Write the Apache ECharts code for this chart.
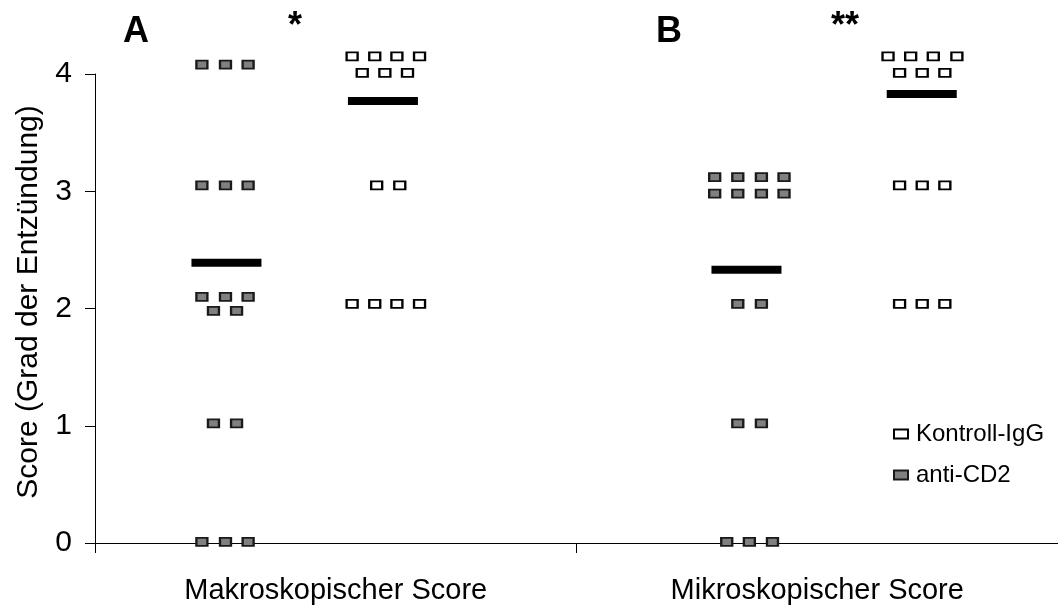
<!DOCTYPE html>
<html>
<head>
<meta charset="utf-8">
<script src="https://cdn.jsdelivr.net/npm/echarts@6/dist/echarts.min.js"></script>
<style>
  html, body { margin: 0; padding: 0; background: #fff; }
  #chart { width: 1058px; height: 605px; }
</style>
</head>
<body>
<div id="chart"></div>
<script>
// Category labels of the two scoring schemes
const categories = ['Makroskopischer Score', 'Mikroskopischer Score'];
const yTicks = [0, 1, 2, 3, 4];
const yTitle = 'Score (Grad der Entzündung)';

// Individual animals: [position on the group axis (0-1 = first group, 1-2 = second), score]
const antiCD2 = [
  [0.222, 4.08], [0.271, 4.08], [0.318, 4.08],
  [0.222, 3.05], [0.271, 3.05], [0.318, 3.05],
  [0.222, 2.10], [0.271, 2.10], [0.318, 2.10],
  [0.246, 1.98], [0.294, 1.98],
  [0.246, 1.02], [0.294, 1.02],
  [0.222, 0.01], [0.271, 0.01], [0.318, 0.01],
  [1.287, 3.12], [1.335, 3.12], [1.384, 3.12], [1.431, 3.12],
  [1.287, 2.98], [1.335, 2.98], [1.384, 2.98], [1.431, 2.98],
  [1.335, 2.04], [1.384, 2.04],
  [1.335, 1.02], [1.384, 1.02],
  [1.312, 0.01], [1.359, 0.01], [1.407, 0.01]
];

const kontrollIgG = [
  [0.534, 4.15], [0.581, 4.15], [0.627, 4.15], [0.674, 4.15],
  [0.555, 4.01], [0.602, 4.01], [0.649, 4.01],
  [0.585, 3.05], [0.633, 3.05],
  [0.534, 2.04], [0.581, 2.04], [0.627, 2.04], [0.674, 2.04],
  [1.647, 4.15], [1.694, 4.15], [1.741, 4.15], [1.790, 4.15],
  [1.671, 4.01], [1.718, 4.01], [1.765, 4.01],
  [1.671, 3.05], [1.718, 3.05], [1.765, 3.05],
  [1.671, 2.04], [1.718, 2.04], [1.765, 2.04]
];

// Group means
const meanAntiCD2 = [[0.273, 2.39], [1.353, 2.33]];
const meanKontroll = [[0.598, 3.77], [1.717, 3.83]];

// Panel letters and significance marks
const panelLabels = ['A', 'B'];
const significance = ['*', '**'];

const FONT = '"Liberation Sans", Arial, sans-serif';

const chart = echarts.init(document.getElementById('chart'), null, { renderer: 'canvas' });

chart.setOption({
  animation: false,
  backgroundColor: '#ffffff',
  textStyle: { fontFamily: FONT, color: '#000' },
  grid: { left: 95, top: 74, width: 974, height: 469, containLabel: false },
  legend: {
    data: ['Kontroll-IgG', 'anti-CD2'],
    orient: 'vertical',
    left: 888,
    top: 417,
    itemWidth: 14,
    itemHeight: 9,
    itemGap: 17,
    textStyle: { fontFamily: FONT, fontSize: 24, color: '#000', lineHeight: 24, padding: [0, 0, 0, 3] }
  },
  xAxis: [
    {
      type: 'category',
      data: categories,
      boundaryGap: true,
      axisLine: { lineStyle: { color: '#000', width: 1 } },
      axisTick: { show: true, length: 10, inside: false, lineStyle: { color: '#000' } },
      axisLabel: { fontFamily: FONT, fontSize: 29, color: '#000', margin: 33 },
      splitLine: { show: false }
    },
    {
      type: 'value',
      min: 0,
      max: 2,
      show: false
    }
  ],
  yAxis: {
    type: 'value',
    min: 0,
    max: 4,
    interval: 1,
    axisLine: { show: true, lineStyle: { color: '#000', width: 1 } },
    axisTick: { show: true, length: 10, inside: false, lineStyle: { color: '#000' } },
    axisLabel: {
      fontFamily: FONT, fontSize: 30, color: '#000', margin: 23,
      formatter: v => (yTicks.includes(v) ? String(v) : '')
    },
    splitLine: { show: false }
  },
  series: [
    {
      name: 'Kontroll-IgG',
      type: 'scatter',
      xAxisIndex: 1,
      clip: false,
      symbol: 'rect',
      symbolSize: [11, 8],
      itemStyle: { color: '#ffffff', borderColor: '#000000', borderWidth: 2, opacity: 1 },
      data: kontrollIgG,
      z: 3
    },
    {
      name: 'anti-CD2',
      type: 'scatter',
      xAxisIndex: 1,
      clip: false,
      symbol: 'rect',
      symbolSize: [11, 8],
      itemStyle: { color: '#808080', borderColor: '#1a1a1a', borderWidth: 2, opacity: 1 },
      data: antiCD2,
      z: 3
    },
    {
      name: 'Mittelwert anti-CD2',
      type: 'scatter',
      xAxisIndex: 1,
      clip: false,
      symbol: 'rect',
      symbolSize: [70, 8],
      itemStyle: { color: '#000000', opacity: 1 },
      data: meanAntiCD2,
      z: 2
    },
    {
      name: 'Mittelwert Kontroll-IgG',
      type: 'scatter',
      xAxisIndex: 1,
      clip: false,
      symbol: 'rect',
      symbolSize: [70, 8],
      itemStyle: { color: '#000000', opacity: 1 },
      data: meanKontroll,
      z: 2
    }
  ],
  graphic: [
    { type: 'text', x: 29, y: 302, rotation: Math.PI / 2, style: { text: yTitle, font: '30px ' + FONT, fill: '#000', textAlign: 'center', textVerticalAlign: 'middle' } },
    { type: 'text', x: 136, y: 32, style: { text: panelLabels[0], font: 'bold 36px ' + FONT, fill: '#000', textAlign: 'center', textVerticalAlign: 'middle' } },
    { type: 'text', x: 669, y: 32, style: { text: panelLabels[1], font: 'bold 36px ' + FONT, fill: '#000', textAlign: 'center', textVerticalAlign: 'middle' } },
    { type: 'text', x: 295, y: 27, style: { text: significance[0], font: 'bold 36px ' + FONT, fill: '#000', textAlign: 'center', textVerticalAlign: 'middle' } },
    { type: 'text', x: 845, y: 27, style: { text: significance[1], font: 'bold 36px ' + FONT, fill: '#000', textAlign: 'center', textVerticalAlign: 'middle' } }
  ]
});
</script>
</body>
</html>
